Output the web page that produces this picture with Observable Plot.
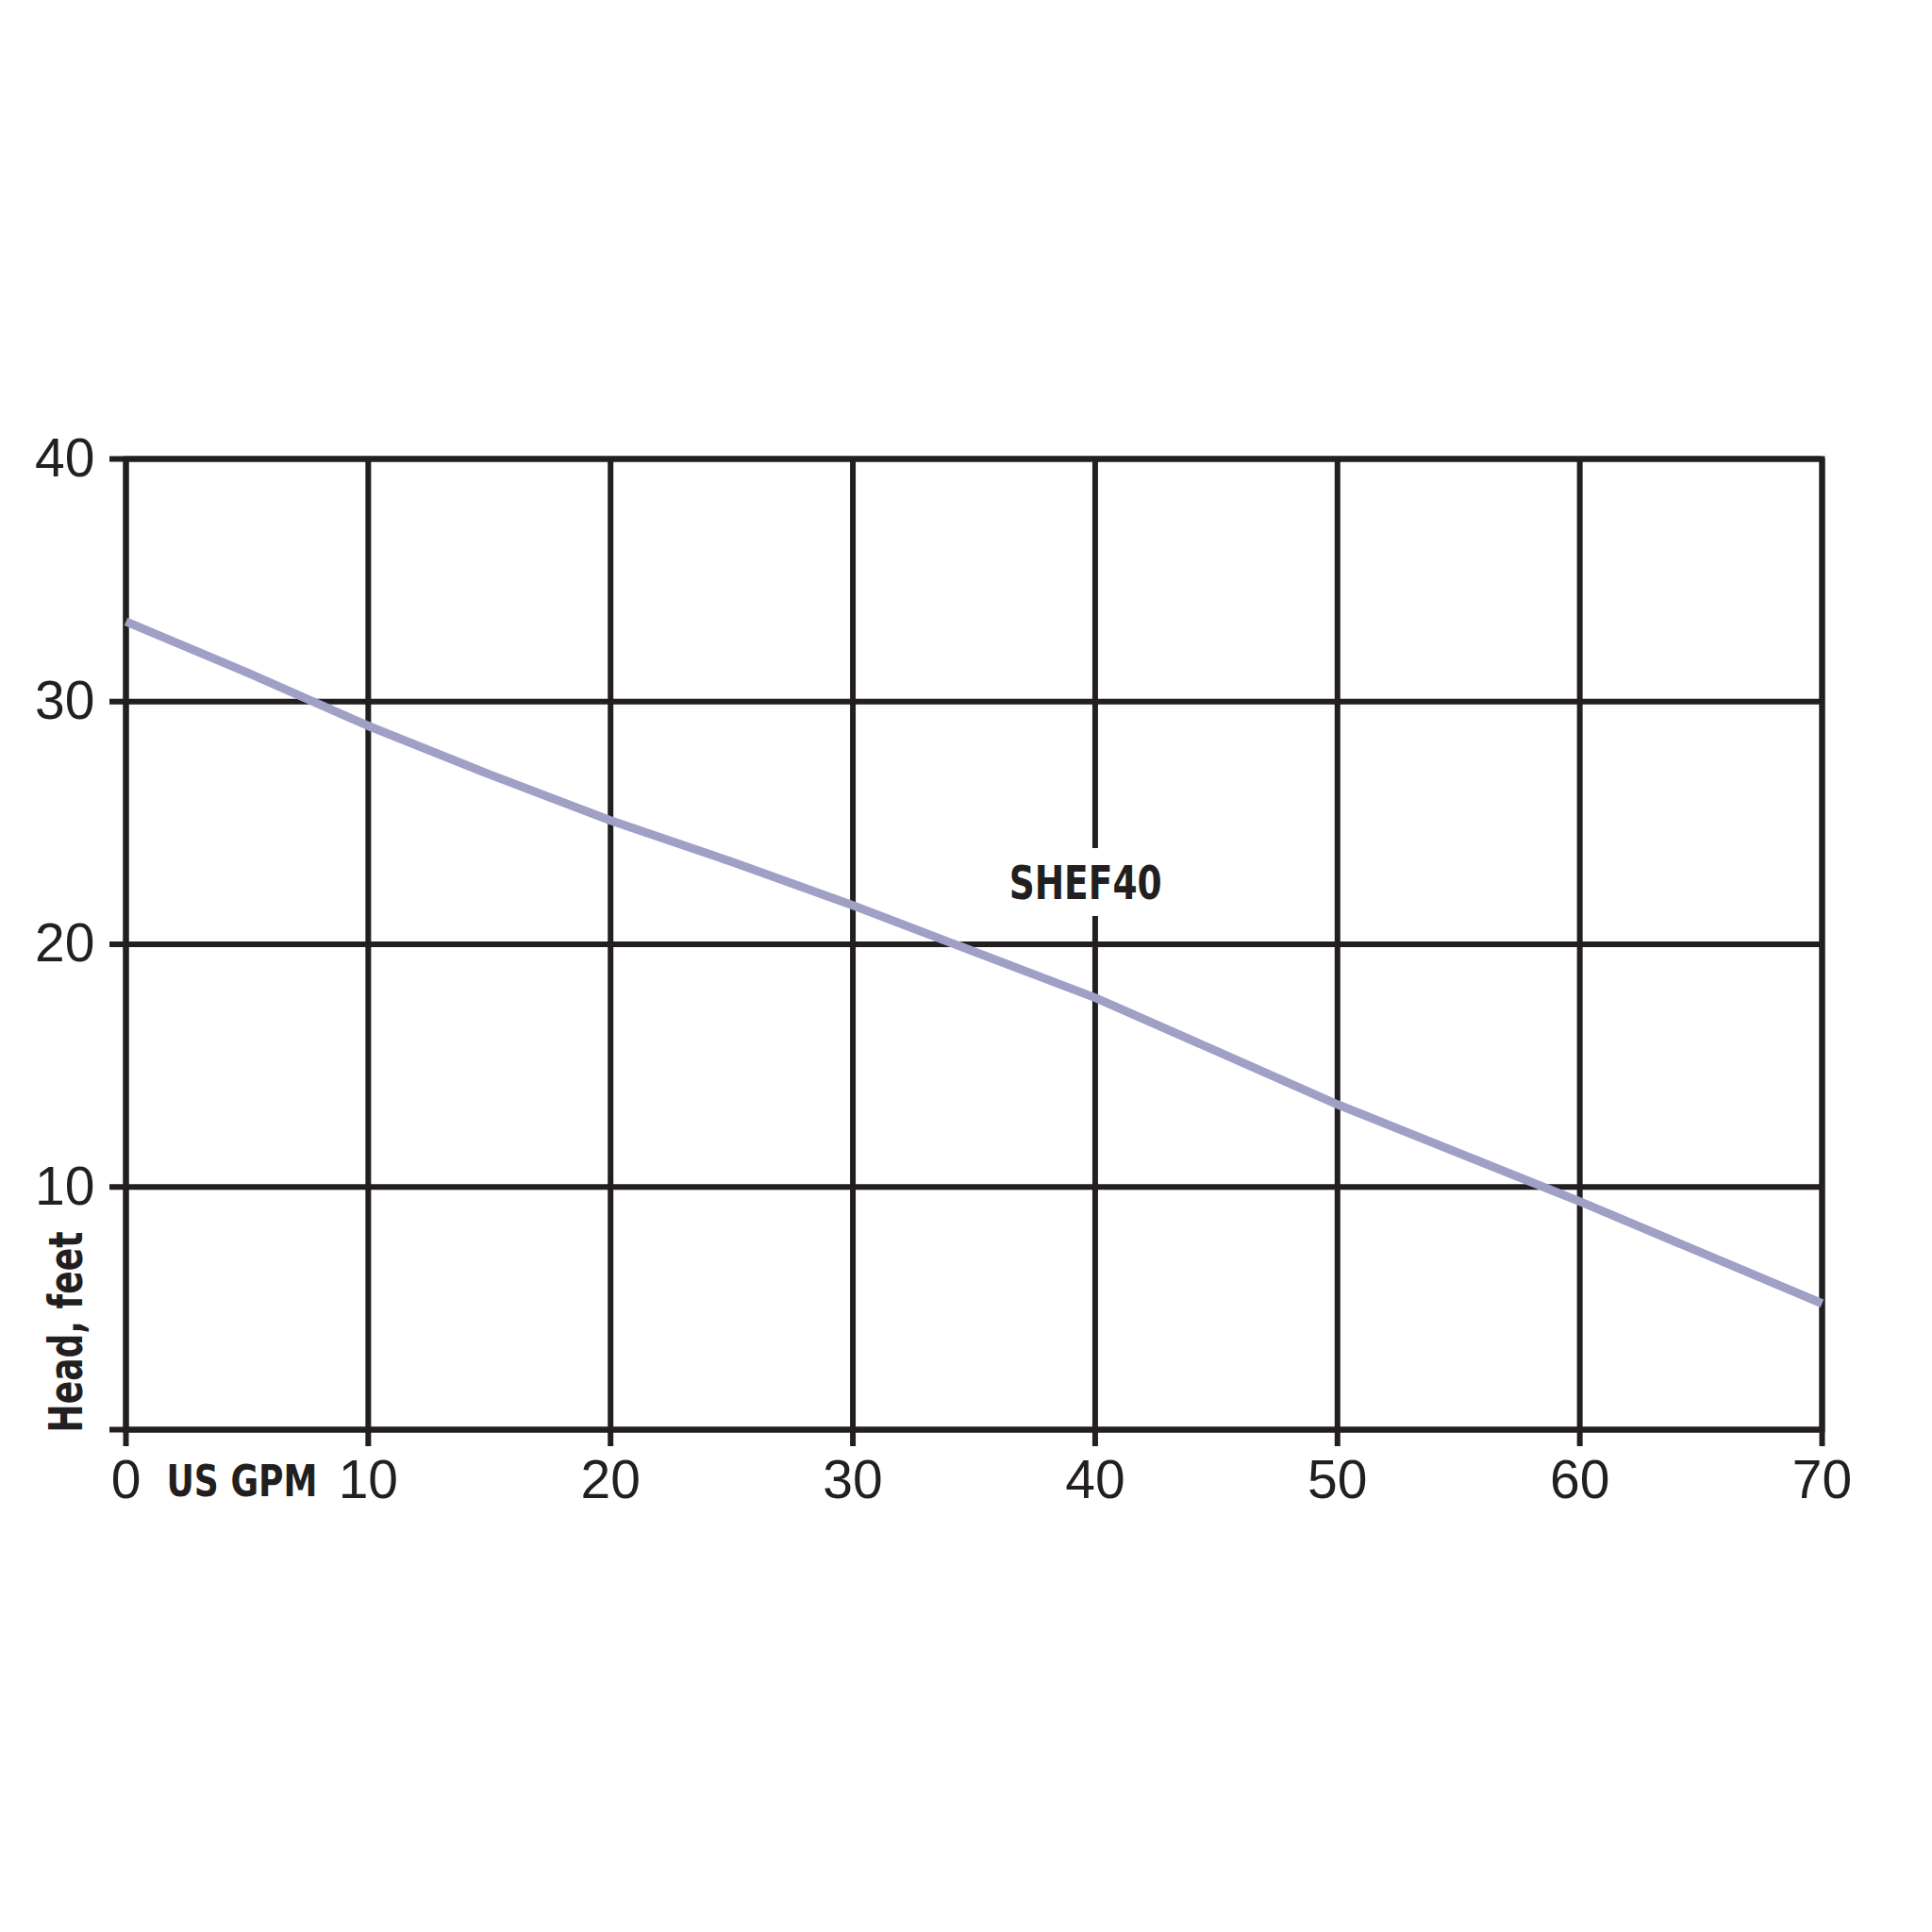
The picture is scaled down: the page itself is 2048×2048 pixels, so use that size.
<!DOCTYPE html>
<html>
<head>
<meta charset="utf-8">
<script src="https://cdn.jsdelivr.net/npm/d3@7"></script>
<script src="https://cdn.jsdelivr.net/npm/@observablehq/plot@0.6"></script>
<style>
  html, body { margin: 0; padding: 0; background: #ffffff; }
</style>
</head>
<body>
<div id="chart"></div>
<script>
// Flow (US GPM) and head (feet)
const flow = [0, 5, 10, 15, 20, 25, 30, 35, 40, 45, 50, 55, 60, 65, 70];
const head = [33.3, 31.2, 29.0, 27.0, 25.1, 23.4, 21.6, 19.7, 17.8, 15.6, 13.4, 11.4, 9.4, 7.3, 5.2];
const xTicks = [0, 10, 20, 30, 40, 50, 60, 70];
const yTicks = [0, 10, 20, 30, 40];
const seriesName = ["SHEF40"];
const seriesLabelX = [39.6];
const seriesLabelY = [22.5];
const xLabel = "US GPM";
const yLabel = "Head, feet";

const curve = flow.map((f, i) => ({flow: f, head: head[i]}));
const labels = seriesName.map((t, i) => ({text: t, x: seriesLabelX[i], y: seriesLabelY[i]}));

const ink = "#231f20";
const narrow = "'Liberation Sans Narrow', 'DejaVu Sans Condensed', 'Liberation Sans', Arial, sans-serif";

const chart = Plot.plot({
  width: 2048,
  height: 2048,
  marginLeft: 133,
  marginRight: 117,
  marginTop: 486,
  marginBottom: 533,
  style: {background: "#ffffff", color: ink, fontFamily: "'Liberation Sans', Arial, sans-serif", fontSize: "57px"},
  x: {domain: [0, 70]},
  y: {domain: [0, 40]},
  marks: [
    Plot.gridX(xTicks, {stroke: ink, strokeOpacity: 1, strokeWidth: 6}),
    Plot.gridY(yTicks, {stroke: ink, strokeOpacity: 1, strokeWidth: 6}),
    Plot.frame({stroke: ink, strokeWidth: 6}),
    Plot.axisX({ticks: xTicks, tickSize: 18, tickPadding: 14, strokeWidth: 6, stroke: ink, fill: ink, fontSize: 57, label: null, tickFormat: d => String(d)}),
    Plot.axisY({ticks: yTicks, tickSize: 17, tickPadding: 16, strokeWidth: 6, stroke: ink, fill: ink, fontSize: 57, label: null, tickFormat: d => d === 0 ? "" : String(d)}),
    Plot.line(curve, {x: "flow", y: "head", stroke: "#a09fc6", strokeWidth: 9, strokeLinecap: "butt"}),
    Plot.text(labels, {x: "x", y: "y", text: "text", fill: ink, stroke: "#ffffff", strokeWidth: 36, paintOrder: "stroke", fontSize: 50, fontWeight: "bold", fontFamily: narrow}),
    Plot.text([xLabel], {frameAnchor: "bottom-left", text: d => d, textAnchor: "middle", dx: 123, dy: 70, fill: ink, fontSize: 46, fontWeight: "bold", fontFamily: narrow}),
    Plot.text([yLabel], {frameAnchor: "bottom-left", text: d => d, rotate: -90, textAnchor: "start", dx: -47, dy: 3, fill: ink, fontSize: 50, fontWeight: "bold", fontFamily: narrow})
  ]
});

// Condense the bold labels to match the narrow face of the reference
const fit = {"SHEF40": 162, "US GPM": 160, "Head, feet": 213};
d3.select(chart).selectAll("text").each(function() {
  const w = fit[this.textContent];
  if (w) d3.select(this).attr("textLength", w).attr("lengthAdjust", "spacingAndGlyphs");
});
document.getElementById("chart").appendChild(chart);
</script>
</body>
</html>
